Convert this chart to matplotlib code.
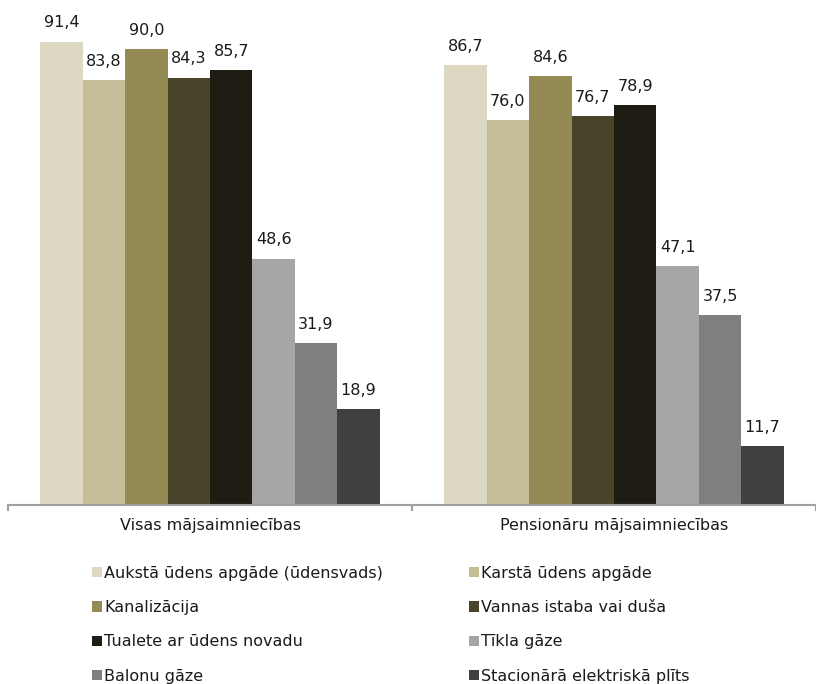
import matplotlib.pyplot as plt
import numpy as np

# household groups and amenities
groups = ["Visas mājsaimniecības", "Pensionāru mājsaimniecības"]
amenities = [
    "Aukstā ūdens apgāde (ūdensvads)",
    "Karstā ūdens apgāde",
    "Kanalizācija",
    "Vannas istaba vai duša",
    "Tualete ar ūdens novadu",
    "Tīkla gāze",
    "Balonu gāze",
    "Stacionārā elektriskā plīts",
]
all_hh = [91.4, 83.8, 90.0, 84.3, 85.7, 48.6, 31.9, 18.9]
pension_hh = [86.7, 76.0, 84.6, 76.7, 78.9, 47.1, 37.5, 11.7]
colors = ["#DDD8C2", "#C4BD97", "#948A54", "#494429", "#1F1D13",
          "#A6A6A6", "#7F7F7F", "#404040"]

plt.rcParams["font.family"] = ["DejaVu Sans"]
fs = 11.5

fig = plt.figure(figsize=(8.16, 6.84), dpi=100)
ax = fig.add_axes([8 / 816, 1 - 505 / 684, 808 / 816, 505 / 684])

n = len(amenities)
w = 0.84 / n
x = np.arange(len(groups))
handles = []
for i in range(n):
    vals = [all_hh[i], pension_hh[i]]
    pos = x - 0.42 + w * (i + 0.5)
    b = ax.bar(pos, vals, width=w, color=colors[i], label=amenities[i])
    handles.append(b)
    for p, v in zip(pos, vals):
        ax.annotate(f"{v:.1f}".replace(".", ","), (p, v), xytext=(0, 8),
                    textcoords="offset points", ha="center", va="bottom",
                    fontsize=fs, color="#1A1A1A")

ax.set_xlim(-0.5, 1.5)
ax.set_ylim(0, 99.6)
for s in ["top", "right", "left"]:
    ax.spines[s].set_visible(False)
ax.spines["bottom"].set_color("#A0A0A0")
ax.spines["bottom"].set_linewidth(1.5)
ax.set_yticks([])
ax.set_xticks([-0.5, 0.5, 1.5])
ax.set_xticklabels([])
ax.tick_params(axis="x", length=4, width=1.5, color="#A0A0A0", direction="out")
for xi, g in zip(x, groups):
    ax.text(xi, -2.6, g, ha="center", va="top", fontsize=fs, color="#1A1A1A")

# legend laid out in two columns, filled row by row
leg_kw = dict(loc="upper left", frameon=False, fontsize=fs, handlelength=0.6,
              handleheight=0.6, handletextpad=0.15, labelspacing=1.2,
              borderpad=0, borderaxespad=0, labelcolor="#1A1A1A")
fig.legend([handles[k] for k in (0, 2, 4, 6)],
           [amenities[k] for k in (0, 2, 4, 6)],
           bbox_to_anchor=(92 / 816, 1 - 566 / 684), **leg_kw)
fig.legend([handles[k] for k in (1, 3, 5, 7)],
           [amenities[k] for k in (1, 3, 5, 7)],
           bbox_to_anchor=(469 / 816, 1 - 566 / 684), **leg_kw)

fig.savefig("out.png", dpi=100)
